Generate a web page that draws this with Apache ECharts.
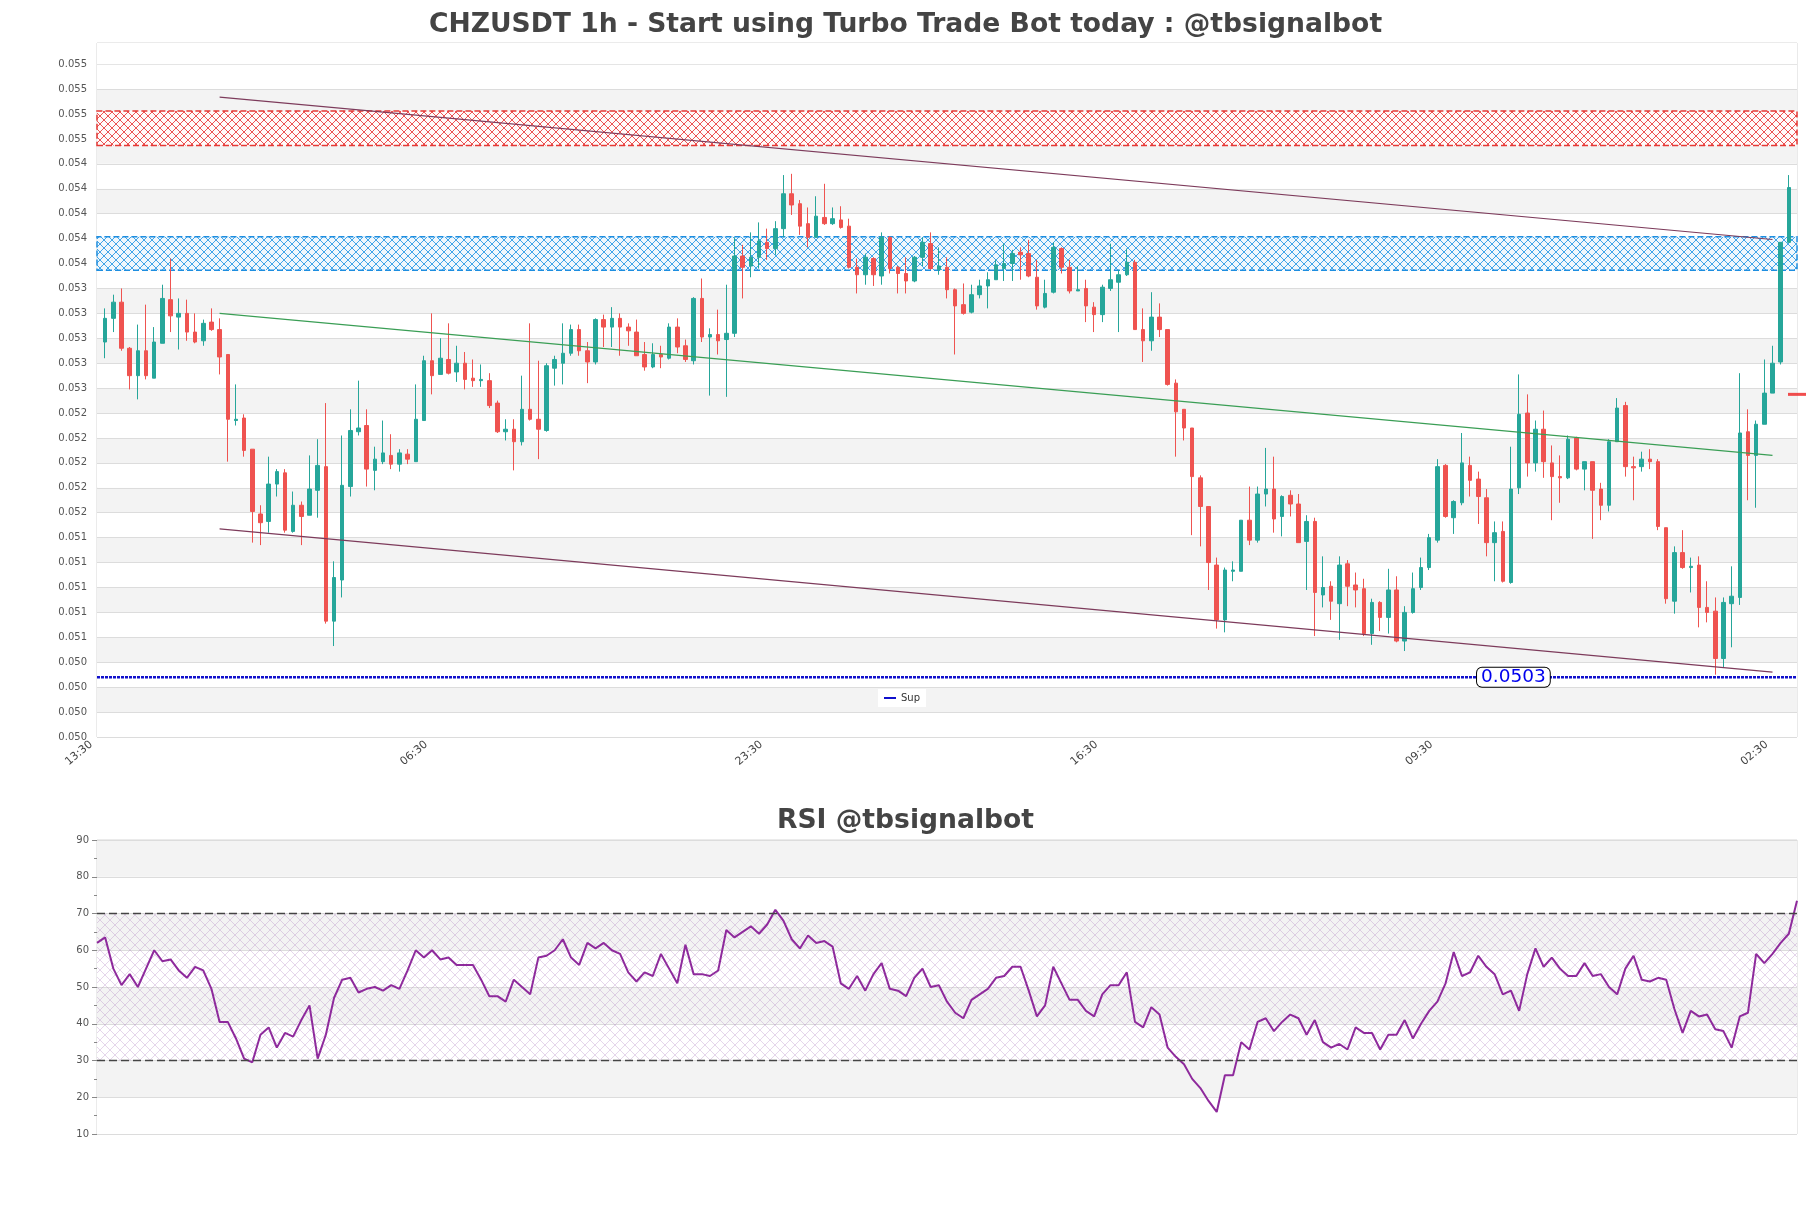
<!DOCTYPE html>
<html><head><meta charset="utf-8">
<script src="https://cdn.jsdelivr.net/npm/echarts@6/dist/echarts.min.js"></script>
<style>html,body{margin:0;padding:0;background:#fff}#c{width:1811px;height:1208px}</style>
</head><body><div id="c"></div>
<script>
const candleOpen = [
0.05297,0.05316,0.05329,0.05292,0.05270,0.05290,0.05268,0.05296,0.05331,0.05317,
0.05320,0.05305,0.05298,0.05313,0.05307,0.05287,0.05234,0.05236,0.05211,0.05159,
0.05153,0.05183,0.05192,0.05145,0.05166,0.05158,0.05178,0.05197,0.05073,0.05106,
0.05181,0.05225,0.05230,0.05194,0.05201,0.05206,0.05199,0.05207,0.05201,0.05234,
0.05282,0.05271,0.05283,0.05273,0.05280,0.05268,0.05266,0.05266,0.05248,0.05225,
0.05227,0.05217,0.05243,0.05235,0.05226,0.05276,0.05280,0.05288,0.05307,0.05290,
0.05281,0.05315,0.05309,0.05316,0.05309,0.05305,0.05287,0.05277,0.05287,0.05284,
0.05309,0.05294,0.05282,0.05332,0.05301,0.05303,0.05299,0.05304,0.05366,0.05358,
0.05365,0.05377,0.05372,0.05388,0.05416,0.05408,0.05392,0.05381,0.05397,0.05392,
0.05395,0.05390,0.05357,0.05351,0.05364,0.05350,0.05381,0.05357,0.05352,0.05346,
0.05365,0.05376,0.05355,0.05357,0.05339,0.05327,0.05321,0.05335,0.05342,0.05347,
0.05356,0.05360,0.05369,0.05368,0.05349,0.05325,0.05337,0.05372,0.05357,0.05338,
0.05340,0.05325,0.05319,0.05340,0.05345,0.05351,0.05361,0.05307,0.05298,0.05317,
0.05307,0.05264,0.05243,0.05228,0.05188,0.05165,0.05118,0.05074,0.05113,0.05113,
0.05154,0.05138,0.05175,0.05179,0.05157,0.05174,0.05167,0.05137,0.05153,0.05094,
0.05101,0.05087,0.05119,0.05102,0.05099,0.05063,0.05088,0.05076,0.05098,0.05057,
0.05080,0.05100,0.05116,0.05138,0.05198,0.05156,0.05168,0.05198,0.05187,0.05172,
0.05136,0.05145,0.05104,0.05180,0.05240,0.05200,0.05227,0.05200,0.05189,0.05188,
0.05220,0.05195,0.05201,0.05179,0.05166,0.05217,0.05246,0.05197,0.05197,0.05203,
0.05201,0.05148,0.05089,0.05128,0.05116,0.05118,0.05084,0.05081,0.05043,0.05087,
0.05092,0.05225,0.05206,0.05231,0.05256,0.05281,0.05377];
const candleClose = [
0.05316,0.05329,0.05292,0.05270,0.05290,0.05270,0.05297,0.05332,0.05318,0.05320,
0.05305,0.05297,0.05312,0.05307,0.05285,0.05235,0.05235,0.05210,0.05161,0.05152,
0.05183,0.05193,0.05146,0.05166,0.05157,0.05179,0.05198,0.05073,0.05108,0.05182,
0.05226,0.05228,0.05195,0.05203,0.05208,0.05199,0.05208,0.05203,0.05235,0.05282,
0.05270,0.05284,0.05272,0.05280,0.05267,0.05266,0.05267,0.05246,0.05225,0.05227,
0.05217,0.05243,0.05235,0.05227,0.05278,0.05283,0.05288,0.05307,0.05290,0.05281,
0.05315,0.05309,0.05316,0.05309,0.05306,0.05286,0.05277,0.05287,0.05285,0.05309,
0.05293,0.05283,0.05332,0.05301,0.05303,0.05298,0.05304,0.05366,0.05357,0.05365,
0.05378,0.05372,0.05388,0.05416,0.05407,0.05390,0.05381,0.05398,0.05392,0.05396,
0.05389,0.05357,0.05351,0.05365,0.05351,0.05381,0.05356,0.05352,0.05346,0.05365,
0.05377,0.05356,0.05358,0.05339,0.05326,0.05320,0.05335,0.05342,0.05347,0.05359,
0.05360,0.05368,0.05367,0.05350,0.05326,0.05336,0.05373,0.05357,0.05338,0.05339,
0.05326,0.05319,0.05341,0.05347,0.05351,0.05361,0.05307,0.05298,0.05317,0.05307,
0.05263,0.05241,0.05228,0.05189,0.05165,0.05120,0.05074,0.05114,0.05114,0.05154,
0.05138,0.05175,0.05179,0.05155,0.05173,0.05167,0.05136,0.05153,0.05096,0.05100,
0.05089,0.05118,0.05101,0.05098,0.05063,0.05088,0.05076,0.05098,0.05057,0.05080,
0.05099,0.05116,0.05140,0.05197,0.05157,0.05169,0.05200,0.05186,0.05173,0.05136,
0.05144,0.05105,0.05179,0.05239,0.05200,0.05227,0.05201,0.05189,0.05188,0.05219,
0.05195,0.05201,0.05178,0.05166,0.05217,0.05244,0.05197,0.05196,0.05203,0.05201,
0.05149,0.05091,0.05128,0.05116,0.05117,0.05084,0.05080,0.05043,0.05088,0.05093,
0.05224,0.05206,0.05231,0.05256,0.05280,0.05377,0.05421];
const candleLow = [
0.05284,0.05305,0.05290,0.05259,0.05251,0.05267,0.05268,0.05296,0.05305,0.05291,
0.05298,0.05296,0.05294,0.05306,0.05271,0.05201,0.05230,0.05205,0.05136,0.05134,
0.05144,0.05173,0.05144,0.05144,0.05134,0.05158,0.05156,0.05071,0.05053,0.05092,
0.05173,0.05222,0.05181,0.05178,0.05199,0.05195,0.05193,0.05199,0.05201,0.05234,
0.05255,0.05271,0.05271,0.05265,0.05259,0.05261,0.05261,0.05244,0.05224,0.05218,
0.05194,0.05214,0.05234,0.05203,0.05225,0.05262,0.05263,0.05286,0.05286,0.05264,
0.05279,0.05293,0.05293,0.05286,0.05294,0.05286,0.05274,0.05276,0.05276,0.05283,
0.05288,0.05281,0.05279,0.05297,0.05254,0.05287,0.05253,0.05301,0.05332,0.05349,
0.05356,0.05363,0.05367,0.05381,0.05399,0.05383,0.05373,0.05381,0.05391,0.05391,
0.05388,0.05356,0.05336,0.05343,0.05342,0.05343,0.05352,0.05336,0.05336,0.05345,
0.05358,0.05355,0.05351,0.05332,0.05287,0.05319,0.05320,0.05332,0.05324,0.05347,
0.05346,0.05346,0.05347,0.05349,0.05323,0.05324,0.05336,0.05352,0.05336,0.05338,
0.05313,0.05305,0.05313,0.05338,0.05305,0.05350,0.05307,0.05281,0.05290,0.05301,
0.05262,0.05205,0.05218,0.05142,0.05133,0.05098,0.05067,0.05064,0.05105,0.05113,
0.05134,0.05136,0.05165,0.05144,0.05141,0.05157,0.05136,0.05098,0.05061,0.05084,
0.05074,0.05058,0.05085,0.05084,0.05061,0.05054,0.05065,0.05063,0.05056,0.05049,
0.05079,0.05098,0.05114,0.05136,0.05156,0.05143,0.05166,0.05173,0.05151,0.05125,
0.05105,0.05104,0.05103,0.05175,0.05189,0.05193,0.05188,0.05154,0.05168,0.05187,
0.05194,0.05178,0.05139,0.05154,0.05161,0.05217,0.05189,0.05170,0.05193,0.05195,
0.05146,0.05087,0.05079,0.05115,0.05096,0.05068,0.05072,0.05030,0.05036,0.05052,
0.05086,0.05170,0.05164,0.05231,0.05256,0.05279,0.05377];
const candleHigh = [
0.05324,0.05335,0.05340,0.05293,0.05311,0.05327,0.05309,0.05343,0.05364,0.05332,
0.05331,0.05320,0.05315,0.05324,0.05316,0.05287,0.05263,0.05239,0.05211,0.05166,
0.05205,0.05195,0.05195,0.05177,0.05169,0.05206,0.05219,0.05248,0.05121,0.05222,
0.05243,0.05266,0.05243,0.05213,0.05234,0.05223,0.05211,0.05211,0.05263,0.05286,
0.05320,0.05300,0.05312,0.05294,0.05289,0.05283,0.05279,0.05272,0.05250,0.05235,
0.05235,0.05270,0.05312,0.05282,0.05280,0.05286,0.05312,0.05311,0.05311,0.05297,
0.05316,0.05319,0.05325,0.05320,0.05312,0.05315,0.05297,0.05296,0.05294,0.05312,
0.05316,0.05299,0.05333,0.05348,0.05308,0.05323,0.05343,0.05381,0.05375,0.05385,
0.05393,0.05388,0.05394,0.05431,0.05432,0.05411,0.05405,0.05414,0.05424,0.05405,
0.05406,0.05396,0.05364,0.05368,0.05365,0.05385,0.05382,0.05358,0.05365,0.05366,
0.05381,0.05385,0.05373,0.05365,0.05340,0.05344,0.05343,0.05347,0.05353,0.05363,
0.05376,0.05371,0.05373,0.05379,0.05363,0.05347,0.05377,0.05373,0.05363,0.05358,
0.05347,0.05329,0.05343,0.05376,0.05355,0.05372,0.05363,0.05324,0.05337,0.05328,
0.05307,0.05267,0.05243,0.05228,0.05190,0.05165,0.05124,0.05116,0.05121,0.05154,
0.05181,0.05181,0.05212,0.05205,0.05174,0.05178,0.05175,0.05158,0.05156,0.05125,
0.05105,0.05125,0.05122,0.05112,0.05107,0.05091,0.05089,0.05115,0.05109,0.05085,
0.05112,0.05124,0.05143,0.05203,0.05199,0.05170,0.05224,0.05205,0.05193,0.05179,
0.05153,0.05153,0.05213,0.05271,0.05255,0.05234,0.05242,0.05214,0.05206,0.05222,
0.05221,0.05201,0.05201,0.05184,0.05219,0.05252,0.05249,0.05205,0.05209,0.05211,
0.05203,0.05148,0.05133,0.05146,0.05124,0.05125,0.05105,0.05092,0.05092,0.05117,
0.05272,0.05243,0.05234,0.05283,0.05294,0.05377,0.05431];

const xTickIndex = [0, 41, 82, 123, 164, 205];
const xTickLabel = ['13:30', '06:30', '23:30', '16:30', '09:30', '02:30'];

const rsiValues = [
62,63.5,55,50.5,53.5,50,55,60,57,57.5,
54.5,52.5,55.5,54.5,49.5,40.5,40.5,36,30.5,29.5,
37,39,33.5,37.5,36.5,41,45,30.5,37,47,
52,52.5,48.5,49.5,50,49,50.5,49.5,54.5,60,
58,60,57.5,58,56,56,56,52,47.5,47.5,
46,52,50,48,58,58.5,60,63,58,56,
62,60.5,62,60,59,54,51.5,54,53,59,
55,51,61.5,53.5,53.5,53,54.5,65.5,63.5,65,
66.5,64.5,67,71,68,63,60.5,64,62,62.5,
61,51,49.5,53,49,53.5,56.5,49.5,49,47.5,
52.5,55,50,50.5,46,43,41.5,46.5,48,49.5,
52.5,53,55.5,55.5,49,42,45,55.5,51,46.5,
46.5,43.5,42,48,50.5,50.5,54,40.5,39,44.5,
42.5,33.5,31,29,25,22.5,19,16,26,26,
35,33,40.5,41.5,38,40.5,42.5,41.5,37,41,
35,33.5,34.5,33,39,37.5,37.5,33,37,37,
41,36,40,43.5,46,51,59.5,53,54,58.5,
55.5,53.5,48,49,43.5,53.5,60.5,55.5,58,55,
53,53,56.5,53,53.5,50,48,55,58.5,52,
51.5,52.5,52,44,37.5,43.5,42,42.5,38.5,38,
33.5,42,43,59,56.5,59,62,64.5,73.5];

const resistanceZone = [0.054548, 0.054824];
const supplyZone = [0.053546, 0.053814];
const upperTrend = [[14, 0.054935], [204, 0.053793]];
const midTrend = [[14, 0.05320], [204, 0.05206]];
const lowerTrend = [[14, 0.05147], [204, 0.05032]];
const supportLevel = 0.05028;
const supportLabelAt = 172.3;
const lastMarker = [[207, 0.05255]];
const rsiBands = [30, 70];

function hatch(line, bg, size, lw) {
  const c = document.createElement('canvas');
  c.width = size; c.height = size;
  const g = c.getContext('2d');
  if (bg) { g.fillStyle = bg; g.fillRect(0, 0, size, size); }
  g.strokeStyle = line; g.lineWidth = lw;
  g.beginPath();
  g.moveTo(-1, -1); g.lineTo(size + 1, size + 1);
  g.moveTo(size + 1, -1); g.lineTo(-1, size + 1);
  g.stroke();
  return c;
}

const kData = candleOpen.map((o, i) => [i, o, candleClose[i], candleLow[i], candleHigh[i]]);
const rsiData = rsiValues.map((v, i) => [i, v]);
const FONT = 'DejaVu Sans';

const chart = echarts.init(document.getElementById('c'), null, {renderer: 'canvas'});
chart.setOption({
  animation: false,
  backgroundColor: '#ffffff',
  textStyle: {fontFamily: FONT},
  title: [
    {text: 'CHZUSDT 1h - Start using Turbo Trade Bot today : @tbsignalbot', left: 'center', top: 7,
     textStyle: {fontFamily: FONT, fontSize: 26.6, fontWeight: 'bold', color: '#444'}},
    {text: 'RSI @tbsignalbot', left: 'center', top: 803,
     textStyle: {fontFamily: FONT, fontSize: 26.6, fontWeight: 'bold', color: '#444'}}
  ],
  legend: {
    data: [{name: 'Sup', icon: 'rect'}], left: 878, top: 689, itemWidth: 12, itemHeight: 2,
    itemGap: 6, padding: [4, 6], backgroundColor: '#fff',
    textStyle: {fontFamily: FONT, fontSize: 10, color: '#333'}
  },
  grid: [
    {left: 97, top: 43, width: 1700, height: 694, show: true, borderColor: '#d6d6d6', borderWidth: 1},
    {left: 97, top: 840, width: 1700, height: 294, show: true, borderColor: '#d6d6d6', borderWidth: 1},
    {left: 83, top: 43, width: 1700, height: 694, show: false}
  ],
  xAxis: [
    {type: 'value', gridIndex: 0, min: -1, max: 207,
     axisLine: {show: false}, axisTick: {show: false}, splitLine: {show: false}, axisLabel: {show: false}},
    {type: 'value', gridIndex: 1, min: 0, max: rsiValues.length - 1, show: false, splitLine: {show: false}},
    {type: 'value', gridIndex: 2, position: 'bottom', min: -1, max: 207,
     axisLine: {show: false}, axisTick: {show: false}, splitLine: {show: false},
     axisLabel: {customValues: xTickIndex, rotate: 40, fontSize: 11, color: '#444', margin: 6,
       formatter: v => { const k = xTickIndex.indexOf(Math.round(v)); return k >= 0 ? xTickLabel[k] : ''; }}}
  ],
  yAxis: [
    {type: 'value', gridIndex: 0, min: 0.0498, max: 0.05537, interval: 0.0002,
     axisLine: {show: false}, axisTick: {show: false},
     axisLabel: {fontSize: 10, color: '#555', margin: 10, showMaxLabel: false, formatter: v => v.toFixed(3)},
     splitLine: {lineStyle: {color: '#dcdcdc', width: 1}},
     splitArea: {show: true, areaStyle: {color: ['#ffffff', '#f3f3f3']}}},
    {type: 'value', gridIndex: 1, min: 10, max: 90, interval: 10,
     axisLine: {show: false},
     axisTick: {show: true, length: 5, lineStyle: {color: '#888'}},
     minorTick: {show: true, splitNumber: 2, length: 3, lineStyle: {color: '#888'}},
     axisLabel: {fontSize: 10, color: '#555', margin: 8},
     splitLine: {lineStyle: {color: '#dcdcdc', width: 1}},
     splitArea: {show: true, areaStyle: {color: ['#ffffff', '#f3f3f3']}}},
    {type: 'value', gridIndex: 2, show: false, min: 0, max: 1, splitLine: {show: false}}
  ],
  series: [
    {type: 'candlestick', name: 'K', xAxisIndex: 0, yAxisIndex: 0, data: kData,
     encode: {x: 0, y: [1, 2, 3, 4]}, barWidth: 4,
     itemStyle: {color: '#26a69a', color0: '#ef5350', borderColor: '#26a69a', borderColor0: '#ef5350', borderWidth: 1},
     markArea: {silent: true, data: [
       [{yAxis: 0.0552, itemStyle: {color: '#ffffff', borderWidth: 0}}, {yAxis: 0.05537}],
       [{yAxis: resistanceZone[0], itemStyle: {color: {image: hatch('#ea4040', '#fffafa', 8, 0.9), repeat: 'repeat'},
          borderColor: '#e53935', borderWidth: 1.5, borderType: [6, 3]}}, {yAxis: resistanceZone[1]}],
       [{yAxis: supplyZone[0], itemStyle: {color: {image: hatch('#2b9be6', '#f0f7fc', 8, 0.9), repeat: 'repeat'},
          borderColor: '#1e8ee0', borderWidth: 1.5, borderType: [6, 3]}}, {yAxis: supplyZone[1]}]
     ]}},
    {type: 'line', name: 'upper', data: upperTrend, symbol: 'none', silent: true,
     lineStyle: {color: '#7d3b5b', width: 1.2}},
    {type: 'line', name: 'mid', data: midTrend, symbol: 'none', silent: true,
     lineStyle: {color: '#3a9e55', width: 1.2}},
    {type: 'line', name: 'lower', data: lowerTrend, symbol: 'none', silent: true,
     lineStyle: {color: '#7d3b5b', width: 1.2}},
    {type: 'line', name: 'Sup', data: [[-1, supportLevel], [207, supportLevel]], symbol: 'none',
     itemStyle: {color: '#1010cc'},
     lineStyle: {color: '#1010cc', width: 2.5, type: [3, 1]},
     markPoint: {symbol: 'rect', symbolSize: 1, itemStyle: {color: 'transparent'},
       data: [{coord: [supportLabelAt, supportLevel]}],
       label: {show: true, position: 'inside', formatter: () => supportLevel.toFixed(4),
         color: '#0000ee', fontSize: 18.5, fontFamily: FONT, backgroundColor: '#fff',
         borderColor: '#000', borderWidth: 1, borderRadius: 5, padding: [0, 4]}}},
    {type: 'scatter', name: 'last', data: lastMarker, symbol: 'rect', symbolSize: [18, 3],
     clip: false, itemStyle: {color: '#ee2222'}, silent: true},
    {type: 'line', name: 'RSI', xAxisIndex: 1, yAxisIndex: 1, data: rsiData, symbol: 'none',
     lineStyle: {color: '#8e2a9c', width: 2},
     markArea: {silent: true, data: [[{yAxis: rsiBands[0], itemStyle: {color: {image: hatch('rgba(170,120,190,0.3)', null, 10, 1), repeat: 'repeat'}}}, {yAxis: rsiBands[1]}]]},
     markLine: {silent: true, symbol: 'none', label: {show: false},
       lineStyle: {color: '#444', type: [8, 4], width: 1.3},
       data: rsiBands.map(v => ({yAxis: v}))}}
  ]
});
</script>
</body></html>
